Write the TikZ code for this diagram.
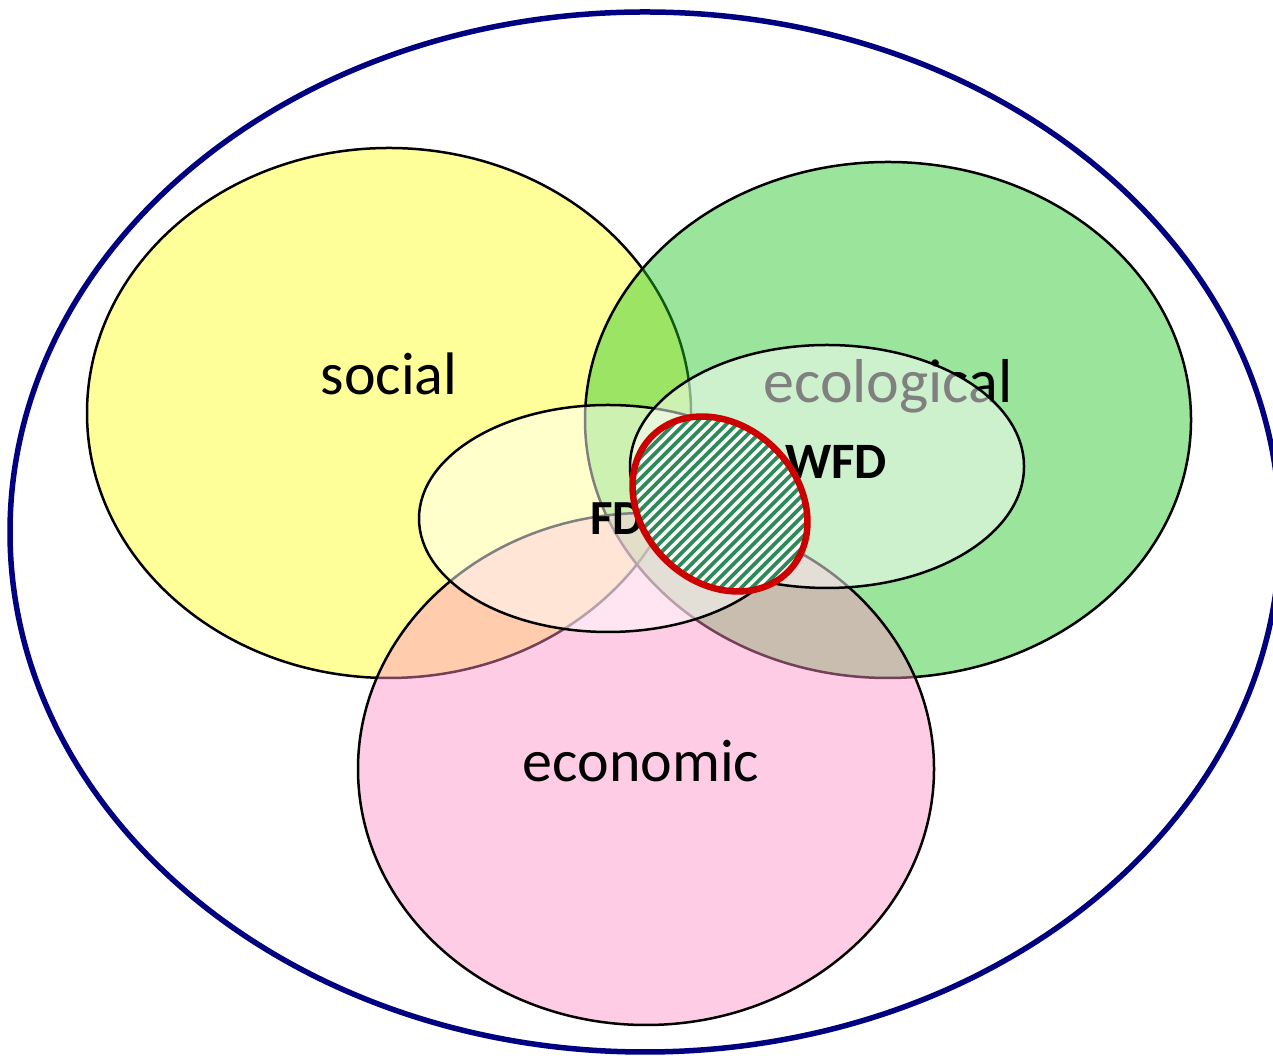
\documentclass[tikz,border=0pt]{standalone}
\usepackage{fontspec}
\setmainfont{Carlito}
\definecolor{navyring}{RGB}{0,0,128}
\definecolor{socyel}{RGB}{255,255,153}
\definecolor{ecogreen}{RGB}{38,198,38}
\definecolor{econpink}{RGB}{255,142,199}
\definecolor{wfdred}{RGB}{204,0,0}
\definecolor{hatchgreen}{RGB}{46,139,87}
\begin{document}
\begin{tikzpicture}[x=1pt,y=1pt,
  outline/.style={draw=black,line width=2.5pt},
  bigtext/.style={font=\fontsize{60}{66}\selectfont,inner sep=0pt,anchor=base},
  boldtext/.style={font=\fontsize{#1}{54}\selectfont\bfseries,inner sep=0pt,anchor=base west},
  veil/.style={fill=white,fill opacity=0.5,draw=black,line width=2.5pt}]
\useasboundingbox (0,0) rectangle (1273,1056);
\fill[white] (0,0) rectangle (1273,1056);
% outer ring
\draw[navyring,line width=5.5pt] (645,524) ellipse [x radius=635,y radius=520];
% social
\filldraw[fill=socyel,outline] (389,643) ellipse [x radius=302,y radius=265];
% ecological
\filldraw[fill=ecogreen,fill opacity=0.46,outline] (888,636) ellipse [x radius=303,y radius=258];
% economic
\filldraw[fill=econpink,fill opacity=0.45,outline] (646,287) ellipse [x radius=288,y radius=256];
% labels of the three spheres
\node[bigtext] (social) at (389,661) {social};
\node[bigtext,font=\fontsize{62}{68}\selectfont] (ecological) at (888,653) {ecological};
\node[bigtext] (economic) at (641,274) {economic};
% FD and WFD ellipses
\path[veil] (608,537.5) ellipse [x radius=189,y radius=113.5];
\path[veil] (827,589.5) ellipse [x radius=197,y radius=121.5];
\node[boldtext=49] (FD) at (590,521) {FD};
\node[boldtext=51] (WFD) at (785,577) {WFD};
% hatched red ellipse
\begin{scope}
  \clip[rotate around={-45:(720,552)}] (720,552) ellipse [x radius=96,y radius=78];
  \fill[white] (600,430) rectangle (840,670);
  \foreach \k in {-30,...,30}
    \draw[hatchgreen,line width=3.8pt] ({720+10.5*\k-160},392) -- ({720+10.5*\k+160},712);
\end{scope}
\draw[wfdred,line width=6.5pt,rotate around={-45:(720,552)}] (720,552) ellipse [x radius=96,y radius=78];
\end{tikzpicture}
\end{document}
